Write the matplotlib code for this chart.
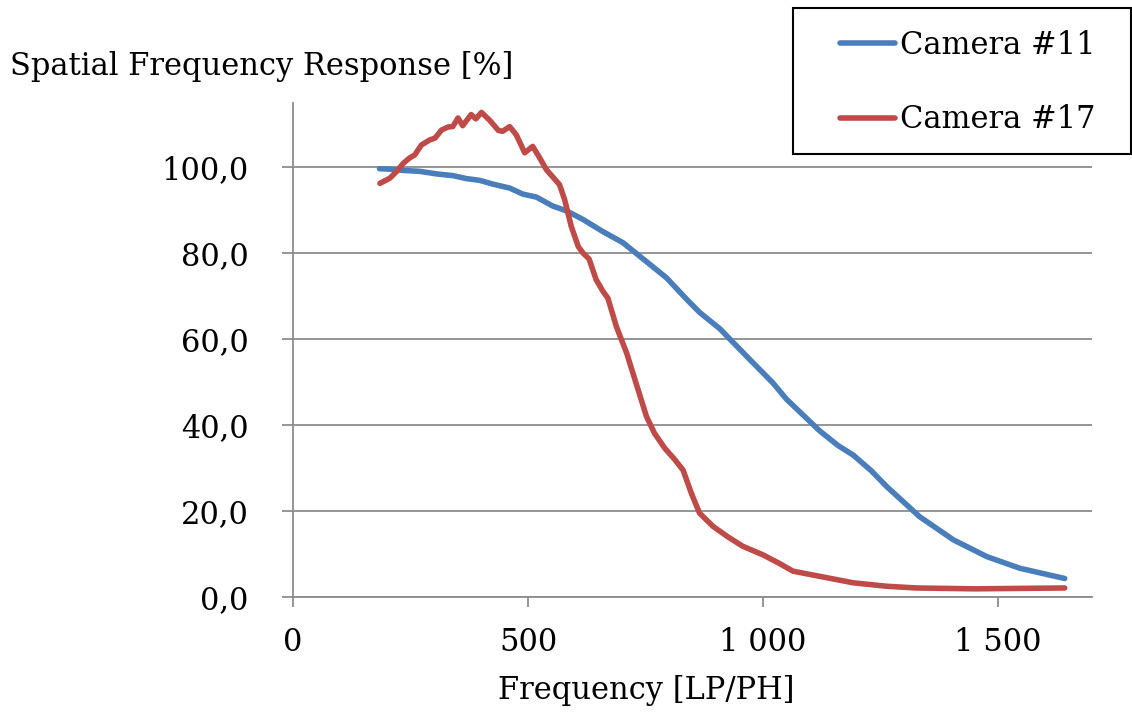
"""
Spatial frequency response (SFR) of two cameras, Excel-style line chart.
"""

import matplotlib.pyplot as plt
from matplotlib.ticker import FuncFormatter
from matplotlib.patches import Rectangle

# Camera #11 - frequency [LP/PH] and SFR [%]
CAM11_FREQ = [184, 206, 235, 269, 305, 340, 369, 397, 426, 461, 489, 518,
              553, 582, 617, 659, 702, 752, 795, 837, 865, 908, 965, 1021,
              1050, 1121, 1160, 1192, 1230, 1263, 1333, 1405, 1476, 1546, 1642]
CAM11_SFR = [99.6, 99.5, 99.2, 99.0, 98.4, 98.0, 97.3, 96.9, 96.0, 95.1, 93.7,
             93.0, 90.9, 89.8, 87.8, 85.0, 82.4, 78.0, 74.2, 69.3, 66.2, 62.4,
             56.0, 49.8, 46.0, 38.6, 35.2, 33.0, 29.4, 25.7, 18.7, 13.3, 9.4,
             6.7, 4.3]

# Camera #17
CAM17_FREQ = [185, 206, 220, 235, 248, 259, 273, 291, 302, 316, 330, 340,
              351, 361, 379, 389, 401, 419, 437, 446, 461, 475, 493, 510,
              525, 539, 567, 578, 592, 607, 617, 630, 645, 660, 670, 688, 710,
              730, 752, 769, 791, 812, 830, 848, 865, 894, 925, 957, 1000,
              1035, 1064, 1121, 1192, 1263, 1326, 1450, 1642]
CAM17_SFR = [96.2, 97.4, 98.9, 100.9, 102.1, 102.8, 105.1, 106.3, 106.7,
             108.6, 109.3, 109.4, 111.4, 109.6, 112.2, 111.2, 112.7, 110.8,
             108.5, 108.3, 109.4, 107.5, 103.3, 104.8, 102.1, 99.4, 95.9,
             92.4, 86.2, 81.5, 80.0, 78.6, 73.8, 71.0, 69.5, 62.9, 56.7, 49.7,
             42.0, 38.1, 34.6, 32.0, 29.5, 24.0, 19.5, 16.4, 14.0, 11.8, 9.8,
             7.8, 6.0, 4.8, 3.3, 2.5, 2.1, 1.9, 2.1]

SERIES_LABELS = ['Camera #11', 'Camera #17']
SERIES_COLORS = ['#4A7EBB', '#BE4B48']
X_TICKS = [0, 500, 1000, 1500]
Y_TICKS = [0, 20, 40, 60, 80, 100]

GRID_COLOR = '#8C8C8C'
FONT = 'DejaVu Serif'
FS = 22

plt.rcParams['font.family'] = FONT

fig = plt.figure(figsize=(11.32, 7.12), dpi=100)
ax = fig.add_axes([293 / 1132, 1 - 597 / 712, 799 / 1132, (597 - 102.5) / 712])

ax.plot(CAM11_FREQ, CAM11_SFR, color=SERIES_COLORS[0], lw=4.0,
        solid_capstyle='round', solid_joinstyle='round', label=SERIES_LABELS[0])
ax.plot(CAM17_FREQ, CAM17_SFR, color=SERIES_COLORS[1], lw=4.0,
        solid_capstyle='round', solid_joinstyle='round', label=SERIES_LABELS[1])

ax.set_xlim(0, 1700)
ax.set_ylim(0, 115)
ax.set_xticks(X_TICKS)
ax.set_yticks(Y_TICKS)
ax.xaxis.set_major_formatter(FuncFormatter(lambda v, p: f'{v:,.0f}'.replace(',', ' ')))
ax.yaxis.set_major_formatter(FuncFormatter(lambda v, p: f'{v:.1f}'.replace('.', ',')))

ax.grid(axis='y', color=GRID_COLOR, lw=1.3)
ax.set_axisbelow(True)
for side in ['top', 'right']:
    ax.spines[side].set_visible(False)
for side in ['left', 'bottom']:
    ax.spines[side].set_color(GRID_COLOR)
    ax.spines[side].set_linewidth(1.3)

ax.tick_params(axis='both', direction='out', color=GRID_COLOR, width=1.3,
               labelsize=FS)
ax.tick_params(axis='x', length=7.5, pad=14)
ax.tick_params(axis='y', length=8, pad=24)

fig.text(10 / 1132, 1 - 66 / 712, 'Spatial Frequency Response [%]',
         fontsize=FS, ha='left', va='center')
fig.text(646 / 1132, 1 - 690 / 712, 'Frequency [LP/PH]',
         fontsize=FS, ha='center', va='center')

# legend box (Excel style, outside plot area)
fig.patches.append(Rectangle((793 / 1132, 1 - 154 / 712), 338 / 1132, 146 / 712,
                             transform=fig.transFigure, fill=False,
                             edgecolor='black', lw=1.5))
fig.legend(loc='upper left', bbox_to_anchor=(840 / 1132, 1 - 30 / 712),
           frameon=False, fontsize=FS, handlelength=1.8, handletextpad=0.17,
           labelspacing=1.42, borderpad=0, borderaxespad=0)

plt.savefig('out.png', dpi=100)
plt.close()
